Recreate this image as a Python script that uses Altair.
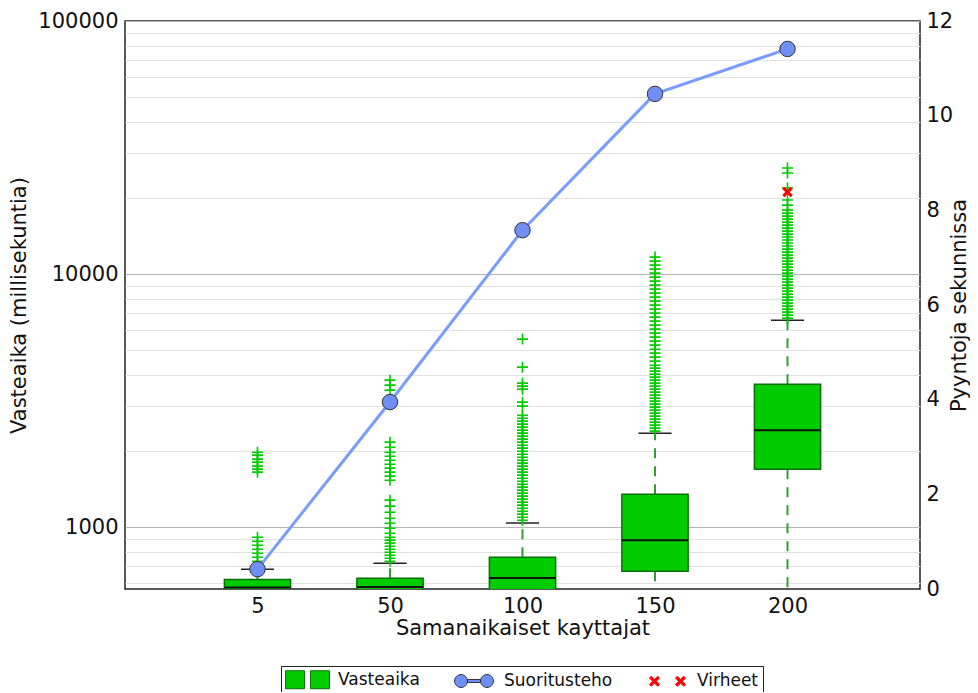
import altair as alt
import pandas as pd

FONT = "DejaVu Sans"

# ---------------- data ----------------
categories = ["5", "50", "100", "150", "200"]
q1_values = [540, 545, 550, 670, 1693]
median_values = [578, 580, 630, 889, 2414]
q3_values = [622, 628, 761, 1349, 3673]
whisker_low = [480, 480, 470, 450, 450]
whisker_high = [682, 721, 1038, 2353, 6578]
throughput = [0.42, 3.95, 7.58, 10.46, 11.41]

outliers_5 = [1979, 1926, 1857, 1807, 1743, 1696, 1650,
              913, 880, 849, 818, 789, 761, 734, 708]
outliers_50 = [3811, 3642, 3479, 2168, 2071, 1979, 1908, 1840, 1774, 1711,
               1650, 1591, 1534, 1279, 1211, 1146, 1085, 1037, 991, 947,
               913, 889, 865, 841, 818, 796, 775, 754, 734]
outliers_100 = [5536, 4289, 3709, 3609, 3512, 3120, 3008, 2771, 2696, 2624,
                2554, 2485, 2418, 2353, 2290, 2228, 2168, 2109, 2053, 1997,
                1943, 1891, 1840, 1791, 1743, 1696, 1650, 1606, 1562, 1520,
                1479, 1440, 1401, 1363, 1327, 1291, 1256, 1222, 1189, 1157,
                1126, 1095, 1066]
outliers_150 = [11675, 11257, 10854, 10465, 10091, 9730, 9382, 9046, 8722, 8410,
                8110, 7820, 7540, 7270, 7010, 6760, 6518, 6285, 6060, 5843,
                5634, 5433, 5239, 5051, 4871, 4697, 4529, 4367, 4250, 4136,
                4025, 3917, 3811, 3709, 3609, 3512, 3417, 3325, 3236, 3149,
                3064, 2982, 2901, 2823, 2747, 2673, 2601, 2531, 2463, 2396]
outliers_200 = [26243, 25074, 21877, 19611, 18738, 17904, 17422, 16953, 16497, 16053,
                15621, 15200, 14791, 14393, 14006, 13629, 13262, 12905, 12557, 12219,
                11890, 11570, 11257, 10953, 10659, 10371, 10091, 9820, 9555, 9297,
                9046, 8802, 8566, 8335, 8110, 7891, 7679, 7472, 7270, 7074,
                6884, 6698]
outliers = {"5": outliers_5, "50": outliers_50, "100": outliers_100,
            "150": outliers_150, "200": outliers_200}

error_categories = ["200"]
error_values = [21090]

legend_labels = ["Vasteaika", "Suoritusteho", "Virheet"]
y_tick_values = [600, 700, 800, 900, 1000, 2000, 3000, 4000, 5000, 6000, 7000,
                 8000, 9000, 10000, 20000, 30000, 40000, 50000, 60000, 70000,
                 80000, 90000, 100000]
y_major = [1000, 10000, 100000]
right_ticks = [0, 2, 4, 6, 8, 10, 12]

# ---------------- tables ----------------
positions = list(range(1, len(categories) + 1))
box_df = pd.DataFrame({
    "category": categories, "pos": positions, "q1": q1_values,
    "med": median_values, "q3": q3_values, "wlo": whisker_low, "whi": whisker_high,
})
out_df = pd.DataFrame([
    {"category": c, "pos": p, "value": v}
    for c, p in zip(categories, positions) for v in outliers[c]
])
err_df = pd.DataFrame({
    "category": error_categories,
    "pos": [categories.index(c) + 1 for c in error_categories],
    "value": error_values,
})
thr_df = pd.DataFrame({"category": categories, "pos": positions, "thr": throughput})
legend_df = pd.DataFrame({"series": legend_labels,
                          "pos": [100] * len(legend_labels),
                          "value": [1000] * len(legend_labels)})

# ---------------- shapes ----------------
PLUS = "M-1,0H1M0,-1V1"


def x_poly(cx, h, w):
    pts = [(0, -w), (h - w, -h), (h, -h + w), (w, 0), (h, h - w), (h - w, h),
           (0, w), (-h + w, h), (-h, h - w), (-w, 0), (-h, -h + w), (-h + w, -h)]
    return "M" + "L".join(f"{cx + px:.3f},{py:.3f}" for px, py in pts) + "Z"


XMARK = x_poly(0, 1, 0.42)
LEG_SQ = "M-1,-1H1.11V1H-1Z M1.77,-1H3.88V1H1.77Z"
LEG_CIRC = ("M-0.664,0A0.72,0.72 0 1,0 0.776,0A0.72,0.72 0 1,0 -0.664,0Z "
            "M2.224,0A0.72,0.72 0 1,0 3.664,0A0.72,0.72 0 1,0 2.224,0Z "
            "M0.78,-0.17H2.22V0.17H0.78Z")
LEG_X = x_poly(0.111, 0.556, 0.2) + " " + x_poly(3.0, 0.556, 0.2)

# ---------------- scales & axes ----------------
FS = 21
xs = alt.Scale(domain=[0, len(categories) + 1], nice=False, zero=False)
label_expr_x = "[" + ",".join(["''"] + [f"'{c}'" for c in categories]) + "][datum.value]"
x_axis = alt.Axis(values=positions, labelExpr=label_expr_x,
                  title="Samanaikaiset kayttajat", grid=False, ticks=False,
                  domain=False, labelPadding=6, titlePadding=1,
                  labelFontSize=FS, titleFontSize=FS, labelColor="#111",
                  titleColor="#111", titleFontWeight="normal",
                  labelFont=FONT, titleFont=FONT)

ys = alt.Scale(type="log", domain=[570, 100000], nice=False)
major_test = " || ".join(f"datum.value == {v}" for v in y_major)
y_axis = alt.Axis(values=y_tick_values,
                  labelExpr=f"({major_test}) ? datum.label : ''",
                  format="d", grid=True,
                  gridColor={"condition": {"test": major_test, "value": "#b4b4b4"},
                             "value": "#e2e2e2"},
                  gridWidth=1, ticks=False, domain=False, labelOverlap=False,
                  title="Vasteaika (millisekuntia)", labelPadding=7,
                  titlePadding=8, labelFontSize=FS, titleFontSize=FS,
                  labelColor="#111", titleColor="#111",
                  titleFontWeight="normal", labelFont=FONT, titleFont=FONT)

yr_axis = alt.Axis(orient="right", values=right_ticks, grid=False, ticks=False,
                   domain=False, title="Pyyntoja sekunnissa", labelPadding=6,
                   titleAngle=270, titleBaseline="alphabetic", titleX=45,
                   labelFontSize=FS, titleFontSize=FS, labelColor="#111",
                   titleColor="#111", titleFontWeight="normal",
                   labelFont=FONT, titleFont=FONT)


def X(field):
    return alt.X(field, type="quantitative", scale=xs, axis=x_axis)


def YL(field):
    return alt.Y(field, type="quantitative", scale=ys, axis=y_axis)


WHISKER = "#349c34"
BOX_FILL = "#00cc00"
BOX_EDGE = "#0b6f0b"

base = alt.Chart(box_df).transform_calculate(
    lo="datum.pos - 0.25", hi="datum.pos + 0.25",
    clo="datum.pos - 0.125", chi="datum.pos + 0.125")

whisk_up = base.mark_rule(color=WHISKER, strokeWidth=2, strokeDash=[10, 8],
                          clip=True).encode(x=X("pos"), y=YL("q3"), y2=alt.Y2("whi"))
whisk_low = base.mark_rule(color=WHISKER, strokeWidth=2, strokeDash=[10, 8],
                           clip=True).encode(x=X("pos"), y=YL("q1"), y2=alt.Y2("wlo"))
boxes = base.mark_rect(fill=BOX_FILL, stroke=BOX_EDGE, strokeWidth=1.5,
                       clip=True).encode(x=X("lo"), x2=alt.X2("hi"),
                                         y=YL("q1"), y2=alt.Y2("q3"))
medians = base.mark_rule(color="#111", strokeWidth=2, clip=True).encode(
    x=X("lo"), x2=alt.X2("hi"), y=YL("med"))
caps_up = base.mark_rule(color="#222", strokeWidth=1.5, clip=True).encode(
    x=X("clo"), x2=alt.X2("chi"), y=YL("whi"))
caps_low = base.mark_rule(color="#222", strokeWidth=1.5, clip=True).encode(
    x=X("clo"), x2=alt.X2("chi"), y=YL("wlo"))
fliers = alt.Chart(out_df).mark_point(shape=PLUS, size=121, filled=False,
                                      color=BOX_FILL, strokeWidth=1.6,
                                      opacity=1, clip=True).encode(
    x=X("pos"), y=YL("value"))
errors = alt.Chart(err_df).mark_point(shape=XMARK, size=110, filled=True,
                                      color="#ff0000", opacity=1, clip=True).encode(
    x=X("pos"), y=YL("value"))

leg = alt.Legend(orient="none", legendX=156, legendY=645, direction="horizontal",
                 columns=3, title=None, symbolSize=324, symbolStrokeWidth=1,
                 symbolOffset=0, labelOffset=34, columnPadding=31, padding=4,
                 labelFontSize=17, labelFont=FONT, labelColor="#111",
                 labelLimit=300, strokeColor="#222", fillColor="#ffffff")
legend_layer = alt.Chart(legend_df).mark_point(filled=True, opacity=1, clip=True).encode(
    x=X("pos"), y=YL("value"),
    fill=alt.Fill("series:N", scale=alt.Scale(domain=legend_labels,
                                              range=["#00cc00", "#6f8ff5", "#ff0000"]),
                  legend=leg),
    stroke=alt.Stroke("series:N", scale=alt.Scale(domain=legend_labels,
                                                  range=["#0b6f0b", "#333333", "#ff0000"]),
                      legend=leg),
    shape=alt.Shape("series:N", scale=alt.Scale(domain=legend_labels,
                                                range=[LEG_SQ, LEG_CIRC, LEG_X]),
                    legend=leg),
)

left = alt.layer(whisk_up, whisk_low, boxes, medians, caps_up, caps_low,
                 fliers, errors, legend_layer)

yr = alt.Y("thr", type="quantitative",
           scale=alt.Scale(domain=[0, 12], nice=False, zero=True), axis=yr_axis)
thr_line = alt.Chart(thr_df).mark_line(color="#7a9bff", strokeWidth=3).encode(
    x=X("pos"), y=yr)
thr_pts = alt.Chart(thr_df).mark_point(filled=True, fill="#6f8ff5", stroke="#333333",
                                       strokeWidth=1, size=240, opacity=1).encode(
    x=X("pos"), y=yr)
right = alt.layer(thr_line, thr_pts)

chart = alt.layer(left, right).resolve_scale(y="independent").properties(
    width=795, height=568,
    autosize=alt.AutoSizeParams(type="none"),
    padding={"left": 117, "top": 13, "right": 50, "bottom": 103},
).configure_view(stroke="#222", strokeWidth=1.5)

chart.save("out.html", embed_options={"renderer": "svg", "actions": False})
